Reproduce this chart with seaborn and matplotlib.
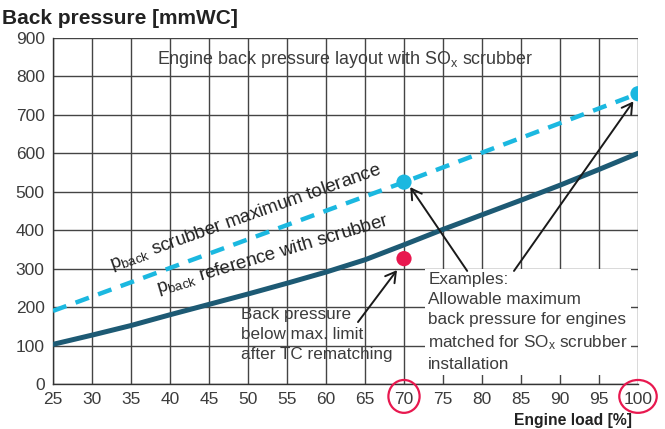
import matplotlib
matplotlib.use("Agg")
import matplotlib.pyplot as plt
import seaborn as sns
import pandas as pd
from matplotlib.patches import Ellipse
from matplotlib.transforms import blended_transform_factory

# ---- data ----
ref_load = [25, 30, 35, 40, 45, 50, 55, 60, 65, 70, 75, 80, 85, 90, 95, 100]
ref_pressure = [103, 127, 152, 180, 207, 234, 262, 291, 323, 362, 402, 440, 478, 517, 558, 600]
tol_load = [25, 70, 100]
tol_pressure = [190, 525, 755]
example_load = [70, 100]
example_pressure = [525, 755]
rematch_load = [70]
rematch_pressure = [326]
x_ticks = list(range(25, 101, 5))
y_ticks = list(range(0, 901, 100))
highlight_ticks = [70, 100]

sns.set_theme(style="white")
plt.rcParams["font.family"] = ["Liberation Sans", "DejaVu Sans"]
plt.rcParams["mathtext.fontset"] = "custom"
plt.rcParams["mathtext.rm"] = "Liberation Sans"
plt.rcParams["mathtext.it"] = "Liberation Sans:italic"

TXT = "#3c3c3c"
DARK = "#1d5a74"
CYAN = "#1bb8e0"
RED = "#e8184f"

fig = plt.figure(figsize=(6.65, 4.29), dpi=100)
ax = fig.add_axes([0.0797, 0.105, 0.8797, 0.8065])

ref_df = pd.DataFrame({"load": ref_load, "p": ref_pressure})
tol_df = pd.DataFrame({"load": tol_load, "p": tol_pressure})
ex_df = pd.DataFrame({"load": example_load, "p": example_pressure})
rm_df = pd.DataFrame({"load": rematch_load, "p": rematch_pressure})

sns.lineplot(data=tol_df, x="load", y="p", ax=ax, color=CYAN, lw=3.2,
             linestyle=(0, (3.2, 2.2)), zorder=3)
sns.lineplot(data=ref_df, x="load", y="p", ax=ax, color=DARK, lw=3.6, zorder=3)
sns.scatterplot(data=ex_df, x="load", y="p", ax=ax, color=CYAN, s=120,
                edgecolor="none", zorder=4)
sns.scatterplot(data=rm_df, x="load", y="p", ax=ax, color=RED, s=120,
                edgecolor="none", zorder=4)

ax.set_xlim(25, 100)
ax.set_ylim(0, 900)
ax.set_xticks(x_ticks)
ax.set_yticks(y_ticks)
ax.grid(True, color="#444444", lw=1.0, zorder=0)
ax.set_axisbelow(True)
for s in ["top", "right"]:
    ax.spines[s].set_visible(False)
for s in ["left", "bottom"]:
    ax.spines[s].set_color("#333333")
    ax.spines[s].set_linewidth(1.0)
ax.tick_params(axis="both", direction="out", length=4, width=1, color="#333333",
               labelsize=12.5, labelcolor=TXT, pad=2)
ax.set_xlabel("")
ax.set_ylabel("")

# axis labels
fig.text(0.003, 0.945, "Back pressure [mmWC]", fontsize=15, fontweight="bold",
         color="#222222", ha="left", va="baseline")
fig.text(0.951, 0.01, "Engine load [%]", fontsize=11.3, fontweight="bold",
         color="#222222", ha="right", va="baseline")

# title
ax.text(0.5, 0.925, r"Engine back pressure layout with SO$_{\rm x}$ scrubber",
        transform=ax.transAxes, ha="center", va="baseline", fontsize=12.9, color=TXT)

# line labels
ax.text(32.6, 298, r"p$_{\rm back}$ scrubber maximum tolerance", rotation=19.5,
        rotation_mode="anchor", ha="left", va="baseline", fontsize=13.5, color="#222222")
ax.text(38.5, 236, r"p$_{\rm back}$ reference with scrubber", rotation=16.5,
        rotation_mode="anchor", ha="left", va="baseline", fontsize=13.5, color="#222222")

# annotations
ax.text(49.1, 200, "Back pressure\nbelow max. limit\nafter TC rematching",
        ha="left", va="top", fontsize=12.3, color=TXT, linespacing=1.42, zorder=5)
ax.text(73.1, 291,
        "Examples:\nAllowable maximum\nback pressure for engines\nmatched for SO$_{\\rm x}$ scrubber\ninstallation",
        ha="left", va="top", fontsize=12.3, color=TXT, linespacing=1.42, zorder=5,
        bbox=dict(facecolor="white", edgecolor="none", pad=2))

arrow = dict(arrowstyle="->,head_length=0.6,head_width=0.35", color="#1a1a1a", lw=1.4,
             shrinkA=0, shrinkB=0)
ax.annotate("", xy=(70.8, 512), xytext=(78.1, 294), arrowprops=arrow, zorder=6)
ax.annotate("", xy=(99.4, 735), xytext=(84.1, 294), arrowprops=arrow, zorder=6)
ax.annotate("", xy=(69.1, 296), xytext=(64.1, 161), arrowprops=arrow, zorder=6)

# red ellipses around highlighted tick labels
tr = blended_transform_factory(ax.transData, ax.transAxes)
for t in highlight_ticks:
    w = 4.0 if t < 100 else 4.8
    e = Ellipse((t, -0.036), width=w, height=0.095, transform=tr, fill=False,
                edgecolor=RED, lw=1.6, clip_on=False, zorder=6)
    ax.add_patch(e)

fig.savefig("out.png", dpi=100)
